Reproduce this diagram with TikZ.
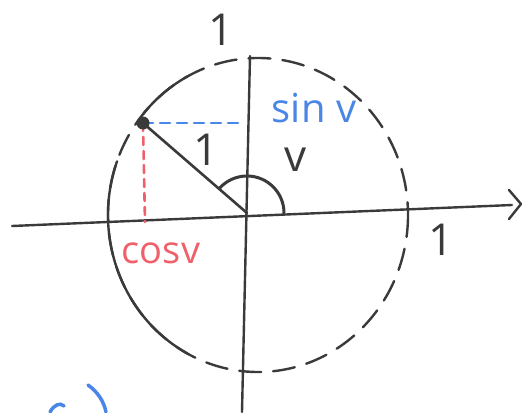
\documentclass[tikz,border=0pt]{standalone}
\usepackage{fontspec}
\setmainfont{Open Sans}
\definecolor{ink}{HTML}{3A3A3A}
\definecolor{pblue}{HTML}{4A86E8}
\definecolor{pred}{HTML}{F0606A}
\begin{document}
\begin{tikzpicture}[x=1pt,y=-1pt,
  pen/.style={draw=ink,line width=2.4pt,line cap=round,line join=round},
  dashpen/.style={pen,dash pattern=on 22pt off 12pt},
  lbl/.style={text=ink,font=\fontsize{44}{44}\selectfont,inner sep=0pt},
  bluelbl/.style={text=pblue,font=\fontsize{40}{40}\selectfont,inner sep=0pt},
  redlbl/.style={text=pred,font=\fontsize{38}{38}\selectfont,inner sep=0pt}]
\useasboundingbox[fill=white] (0,0) rectangle (524,412);
% key points
\coordinate (O) at (247,213);
\coordinate (C) at (258,215);
\coordinate (P) at (143,123);
\coordinate (xl) at (12,226);
\coordinate (xr) at (512,205);
\coordinate (tip) at (521,204);
\coordinate (yt) at (250,56);
\coordinate (yb) at (242,412);
\coordinate (S) at (245,123);
\coordinate (Q) at (145,222);
% circle
\draw[dashpen] (C) ellipse[x radius=150,y radius=157];
\draw[pen] (C) ++(-160:150 and 157) arc[start angle=-160,end angle=-242,x radius=150,y radius=157];
\draw[pen] (C) ++(-118:150 and 157) arc[start angle=-118,end angle=-140,x radius=150,y radius=157];
% axes
\draw[pen] (xl) -- (xr);
\draw[pen] (509,190) -- (tip) -- (509,219);
\draw[pen] (yt) -- (yb);
% projections
\draw[draw=pblue,line width=2.6pt,dash pattern=on 10pt off 7pt,line cap=round] (P) -- (S);
\draw[draw=pred,line width=2.6pt,dash pattern=on 8pt off 6pt,line cap=round] (P) -- (Q);
% radius and angle
\draw[pen,line width=2.6pt] (P) -- (O);
\draw[pen,line width=3pt] (O) ++(37,0) arc[start angle=0,end angle=-139,radius=37];
\fill[ink] (P) circle[radius=6.5];
% labels
\node[lbl] (t1) at (221,30) {1};
\node[lbl] (r1) at (441,240) {1};
\node[lbl] (h1) at (206,150) {1};
\node[lbl] (ang) at (296,160) {v};
\node[bluelbl] (sinv) at (314,108) {sin v};
\node[redlbl] (cosv) at (161,253) {cosv};
% partial blue strokes at bottom
\draw[draw=pblue,line width=3.5pt,line cap=round] (88,385) .. controls (98,392) and (104,402) .. (106,412);
\draw[draw=pblue,line width=3.5pt,line cap=round] (50,412) .. controls (54,405) and (60,402) .. (64,406);
\end{tikzpicture}
\end{document}
